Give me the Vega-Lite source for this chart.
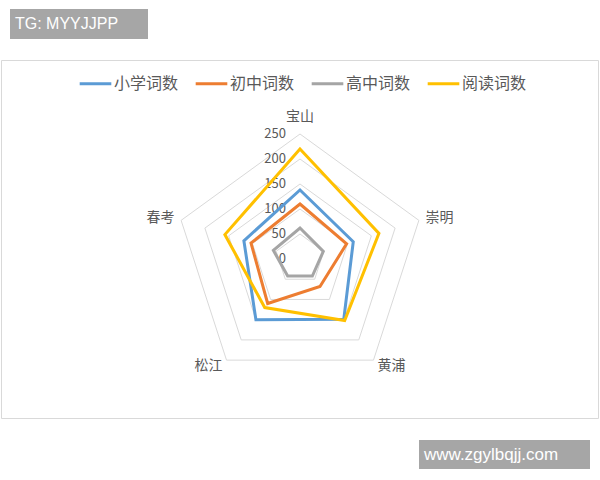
{
  "$schema": "https://vega.github.io/schema/vega-lite/v6.json",
  "width": 597,
  "height": 358,
  "autosize": {"type": "none"},
  "padding": {"left": 1, "top": 60, "right": 2, "bottom": 62},
  "background": "white",
  "config": {"view": {"stroke": "#D9D9D9", "strokeWidth": 1}, "font": "Noto Sans CJK SC"},
  "datasets": {
    "words": [
      {"region": "宝山", "series": "小学词数", "value": 138},
      {"region": "崇明", "series": "小学词数", "value": 112},
      {"region": "黄浦", "series": "小学词数", "value": 149},
      {"region": "松江", "series": "小学词数", "value": 150},
      {"region": "春考", "series": "小学词数", "value": 118},
      {"region": "宝山", "series": "初中词数", "value": 110},
      {"region": "崇明", "series": "初中词数", "value": 98},
      {"region": "黄浦", "series": "初中词数", "value": 68},
      {"region": "松江", "series": "初中词数", "value": 110},
      {"region": "春考", "series": "初中词数", "value": 103},
      {"region": "宝山", "series": "高中词数", "value": 62},
      {"region": "崇明", "series": "高中词数", "value": 49},
      {"region": "黄浦", "series": "高中词数", "value": 42},
      {"region": "松江", "series": "高中词数", "value": 42},
      {"region": "春考", "series": "高中词数", "value": 56},
      {"region": "宝山", "series": "阅读词数", "value": 220},
      {"region": "崇明", "series": "阅读词数", "value": 166},
      {"region": "黄浦", "series": "阅读词数", "value": 152},
      {"region": "松江", "series": "阅读词数", "value": 120},
      {"region": "春考", "series": "阅读词数", "value": 158}
    ],
    "grid": [
      {"region": "宝山", "level": [0, 50, 100, 150, 200, 250]},
      {"region": "崇明", "level": [0, 50, 100, 150, 200, 250]},
      {"region": "黄浦", "level": [0, 50, 100, 150, 200, 250]},
      {"region": "松江", "level": [0, 50, 100, 150, 200, 250]},
      {"region": "春考", "level": [0, 50, 100, 150, 200, 250]}
    ]
  },
  "layer": [
    {
      "data": {"name": "grid"},
      "transform": [
        {"flatten": ["level"]},
        {"filter": "datum.level > 0"},
        {"calculate": "indexof(['宝山','崇明','黄浦','松江','春考'], datum.region)", "as": "idx"},
        {"calculate": "datum.level * sin(datum.idx * 2 * PI / 5)", "as": "gx"},
        {"calculate": "datum.level * cos(datum.idx * 2 * PI / 5)", "as": "gy"}
      ],
      "mark": {"type": "line", "interpolate": "linear-closed", "stroke": "#D9D9D9", "strokeWidth": 1},
      "encoding": {
        "x": {"field": "gx", "type": "quantitative", "scale": {"domain": [-598, 596], "nice": false, "zero": false}, "axis": null},
        "y": {"field": "gy", "type": "quantitative", "scale": {"domain": [-318, 398], "nice": false, "zero": false}, "axis": null},
        "detail": {"field": "level", "type": "nominal"},
        "order": {"field": "idx", "type": "quantitative"}
      }
    },
    {
      "data": {"name": "grid"},
      "transform": [
        {"flatten": ["level"]},
        {"filter": "datum.region == '宝山'"},
        {"calculate": "0", "as": "gx"},
        {"calculate": "datum.level", "as": "gy"}
      ],
      "mark": {"type": "text", "align": "right", "baseline": "middle", "dx": -14, "fontSize": 13, "color": "#595959"},
      "encoding": {
        "x": {"field": "gx", "type": "quantitative", "scale": {"domain": [-598, 596], "nice": false, "zero": false}, "axis": null},
        "y": {"field": "gy", "type": "quantitative", "scale": {"domain": [-318, 398], "nice": false, "zero": false}, "axis": null},
        "text": {"field": "level", "type": "quantitative"}
      }
    },
    {
      "data": {"name": "grid"},
      "transform": [
        {"flatten": ["level"]},
        {"filter": "datum.level == 250 && datum.region == '宝山'"},
        {"calculate": "0", "as": "lx"},
        {"calculate": "284", "as": "ly"}
      ],
      "mark": {"type": "text", "align": "center", "baseline": "middle", "fontSize": 14, "color": "#595959"},
      "encoding": {
        "x": {"field": "lx", "type": "quantitative", "scale": {"domain": [-598, 596], "nice": false, "zero": false}, "axis": null},
        "y": {"field": "ly", "type": "quantitative", "scale": {"domain": [-318, 398], "nice": false, "zero": false}, "axis": null},
        "text": {"field": "region", "type": "nominal"}
      }
    },
    {
      "data": {"name": "grid"},
      "transform": [
        {"flatten": ["level"]},
        {"filter": "datum.level == 250 && (datum.region == '崇明' || datum.region == '黄浦')"},
        {"calculate": "indexof(['宝山','崇明','黄浦','松江','春考'], datum.region)", "as": "idx"},
        {"calculate": "264 * sin(datum.idx * 2 * PI / 5)", "as": "lx"},
        {"calculate": "264 * cos(datum.idx * 2 * PI / 5)", "as": "ly"}
      ],
      "mark": {"type": "text", "align": "left", "baseline": "middle", "fontSize": 14, "color": "#595959"},
      "encoding": {
        "x": {"field": "lx", "type": "quantitative", "scale": {"domain": [-598, 596], "nice": false, "zero": false}, "axis": null},
        "y": {"field": "ly", "type": "quantitative", "scale": {"domain": [-318, 398], "nice": false, "zero": false}, "axis": null},
        "text": {"field": "region", "type": "nominal"}
      }
    },
    {
      "data": {"name": "grid"},
      "transform": [
        {"flatten": ["level"]},
        {"filter": "datum.level == 250 && (datum.region == '松江' || datum.region == '春考')"},
        {"calculate": "indexof(['宝山','崇明','黄浦','松江','春考'], datum.region)", "as": "idx"},
        {"calculate": "264 * sin(datum.idx * 2 * PI / 5)", "as": "lx"},
        {"calculate": "264 * cos(datum.idx * 2 * PI / 5)", "as": "ly"}
      ],
      "mark": {"type": "text", "align": "right", "baseline": "middle", "fontSize": 14, "color": "#595959"},
      "encoding": {
        "x": {"field": "lx", "type": "quantitative", "scale": {"domain": [-598, 596], "nice": false, "zero": false}, "axis": null},
        "y": {"field": "ly", "type": "quantitative", "scale": {"domain": [-318, 398], "nice": false, "zero": false}, "axis": null},
        "text": {"field": "region", "type": "nominal"}
      }
    },
    {
      "data": {"name": "words"},
      "transform": [
        {"calculate": "indexof(['宝山','崇明','黄浦','松江','春考'], datum.region)", "as": "idx"},
        {"calculate": "datum.value * sin(datum.idx * 2 * PI / 5)", "as": "px"},
        {"calculate": "datum.value * cos(datum.idx * 2 * PI / 5)", "as": "py"}
      ],
      "mark": {"type": "line", "interpolate": "linear-closed", "strokeWidth": 3, "strokeJoin": "miter"},
      "encoding": {
        "x": {"field": "px", "type": "quantitative", "scale": {"domain": [-598, 596], "nice": false, "zero": false}, "axis": null},
        "y": {"field": "py", "type": "quantitative", "scale": {"domain": [-318, 398], "nice": false, "zero": false}, "axis": null},
        "color": {
          "field": "series",
          "type": "nominal",
          "scale": {"domain": ["小学词数", "初中词数", "高中词数", "阅读词数"], "range": ["#5B9BD5", "#ED7D31", "#A5A5A5", "#FFC000"]},
          "legend": {
            "title": null,
            "orient": "none",
            "legendX": 77,
            "legendY": 6,
            "direction": "horizontal",
            "symbolType": "stroke",
            "symbolStrokeWidth": 3,
            "symbolSize": 1000,
            "labelFontSize": 16,
            "labelColor": "#595959",
            "labelOffset": 1,
            "columnPadding": 10
          }
        },
        "order": {"field": "idx", "type": "quantitative"}
      }
    },
    {
      "data": {"values": [{"tag": "TG: MYYJJPP"}]},
      "mark": {"type": "rect", "color": "#A6A6A6"},
      "encoding": {
        "x": {"datum": -580, "type": "quantitative", "scale": {"domain": [-598, 596], "nice": false, "zero": false}, "axis": null},
        "x2": {"datum": -304},
        "y": {"datum": 500, "type": "quantitative", "scale": {"domain": [-318, 398], "nice": false, "zero": false}, "axis": null},
        "y2": {"datum": 440}
      }
    },
    {
      "data": {"values": [{"tag": "TG: MYYJJPP"}]},
      "mark": {"type": "text", "align": "left", "baseline": "middle", "font": "Liberation Sans", "fontSize": 16, "color": "white"},
      "encoding": {
        "x": {"datum": -570, "type": "quantitative", "scale": {"domain": [-598, 596], "nice": false, "zero": false}, "axis": null},
        "y": {"datum": 470, "type": "quantitative", "scale": {"domain": [-318, 398], "nice": false, "zero": false}, "axis": null},
        "text": {"field": "tag"}
      }
    },
    {
      "data": {"values": [{"tag": "www.zgylbqjj.com"}]},
      "mark": {"type": "rect", "color": "#A6A6A6"},
      "encoding": {
        "x": {"datum": 238, "type": "quantitative", "scale": {"domain": [-598, 596], "nice": false, "zero": false}, "axis": null},
        "x2": {"datum": 580},
        "y": {"datum": -362, "type": "quantitative", "scale": {"domain": [-318, 398], "nice": false, "zero": false}, "axis": null},
        "y2": {"datum": -420}
      }
    },
    {
      "data": {"values": [{"tag": "www.zgylbqjj.com"}]},
      "mark": {"type": "text", "align": "left", "baseline": "middle", "font": "Liberation Sans", "fontSize": 17, "color": "white"},
      "encoding": {
        "x": {"datum": 248, "type": "quantitative", "scale": {"domain": [-598, 596], "nice": false, "zero": false}, "axis": null},
        "y": {"datum": -391, "type": "quantitative", "scale": {"domain": [-318, 398], "nice": false, "zero": false}, "axis": null},
        "text": {"field": "tag"}
      }
    }
  ]
}
